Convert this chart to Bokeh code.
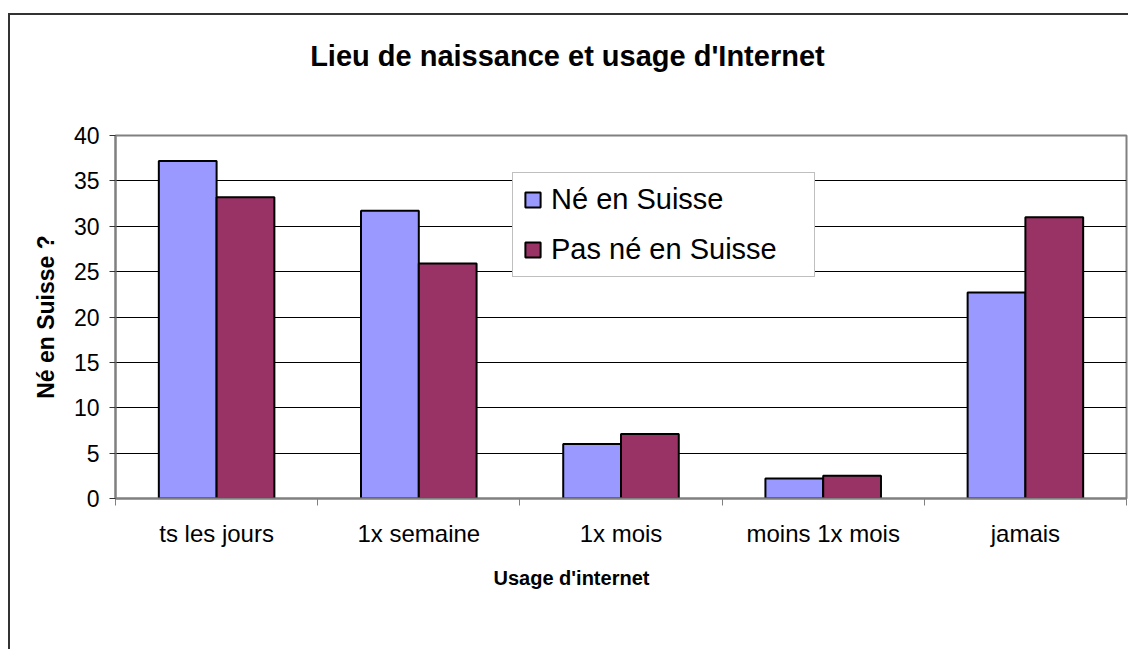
from bokeh.plotting import figure
from bokeh.models import FixedTicker, Legend, LegendItem, Label, ColumnDataSource
from bokeh.embed import file_html
from bokeh.resources import INLINE

# ---- data ----
categories = ["ts les jours", "1x semaine", "1x mois", "moins 1x mois", "jamais"]
ne_en_suisse = [37.2, 31.7, 6.0, 2.2, 22.7]
pas_ne_en_suisse = [33.2, 25.9, 7.1, 2.5, 31.0]
series_names = ["Né en Suisse", "Pas né en Suisse"]
series_colors = ["#9999FF", "#993366"]
y_ticks = [0, 5, 10, 15, 20, 25, 30, 35, 40]
title_text = "Lieu de naissance et usage d'Internet"
x_title = "Usage d'internet"
y_title = "Né en Suisse ?"

FONT = "Liberation Sans"

n = len(categories)
centers = [i + 0.5 for i in range(n)]
bw = 1 / 3.5  # gap width 150%

src = ColumnDataSource(dict(
    x1=[c - bw / 2 for c in centers],
    x2=[c + bw / 2 for c in centers],
    ne=ne_en_suisse,
    pas=pas_ne_en_suisse,
))

p = figure(width=1120, height=636, x_range=(0, n), y_range=(y_ticks[0], y_ticks[-1]),
           output_backend="svg", toolbar_location=None,
           min_border_left=105, min_border_right=4, min_border_top=120, min_border_bottom=153)
p.styles = {"border-left": "2px solid #333333", "border-top": "2px solid #333333",
            "margin-top": "13px", "margin-left": "8px"}

r1 = p.vbar(x="x1", top="ne", width=bw, bottom=0, source=src,
            fill_color=series_colors[0], line_color="black", line_width=2)
r2 = p.vbar(x="x2", top="pas", width=bw, bottom=0, source=src,
            fill_color=series_colors[1], line_color="black", line_width=2)

p.outline_line_color = "#808080"
p.outline_line_width = 2
p.background_fill_color = "white"
p.border_fill_color = "white"

# y axis
yt = FixedTicker(ticks=y_ticks)
p.yaxis.ticker = yt
p.ygrid[0].ticker = yt
p.ygrid.grid_line_color = "black"
p.ygrid.grid_line_width = 1
p.xgrid.visible = False
p.yaxis.axis_line_color = "#808080"
p.yaxis.axis_line_width = 2
p.yaxis.major_tick_out = 6
p.yaxis.major_tick_in = 0
p.yaxis.major_tick_line_color = "#333333"
p.yaxis.minor_tick_line_color = None
p.yaxis.major_label_standoff = 10
p.yaxis.major_label_text_font = FONT
p.yaxis.major_label_text_font_size = "23px"
p.yaxis.major_label_text_color = "black"
p.yaxis.axis_label = y_title
p.yaxis.axis_label_text_font = FONT
p.yaxis.axis_label_text_font_size = "23px"
p.yaxis.axis_label_text_font_style = "bold"
p.yaxis.axis_label_text_color = "black"
p.yaxis.axis_label_standoff = 12

# x axis
p.xaxis.ticker = FixedTicker(ticks=centers, minor_ticks=list(range(n + 1)))
p.xaxis.major_label_overrides = {c: lab for c, lab in zip(centers, categories)}
p.xaxis.major_tick_out = 0
p.xaxis.major_tick_in = 0
p.xaxis.minor_tick_out = 7
p.xaxis.minor_tick_in = 0
p.xaxis.minor_tick_line_color = "#808080"
p.xaxis.axis_line_color = "#808080"
p.xaxis.axis_line_width = 2
p.xaxis.major_label_standoff = 14
p.xaxis.major_label_text_font = FONT
p.xaxis.major_label_text_font_size = "24px"
p.xaxis.major_label_text_color = "black"

# chart title and x-axis title (placed in side panels so they are not clipped)
p.add_layout(Label(x=2.235, y=48.8, text=title_text, text_align="center", text_baseline="middle",
                   text_font=FONT, text_font_size="29px", text_font_style="bold",
                   text_color="black"), "above")
p.add_layout(Label(x=2.255, y=-8.8, text=x_title, text_align="center", text_baseline="middle",
                   text_font=FONT, text_font_size="20px", text_font_style="bold",
                   text_color="black"), "below")

legend = Legend(items=[LegendItem(label=series_names[0], renderers=[r1]),
                       LegendItem(label=series_names[1], renderers=[r2])],
                location=(397, 221), padding=10, spacing=17, margin=0,
                glyph_width=19, glyph_height=19, label_standoff=9, label_width=253,
                label_text_font=FONT, label_text_font_size="29px", label_text_color="black",
                border_line_color="#808080", border_line_width=1,
                background_fill_color="white", background_fill_alpha=1)
p.add_layout(legend)

open("out.html", "w").write(file_html(p, INLINE))
